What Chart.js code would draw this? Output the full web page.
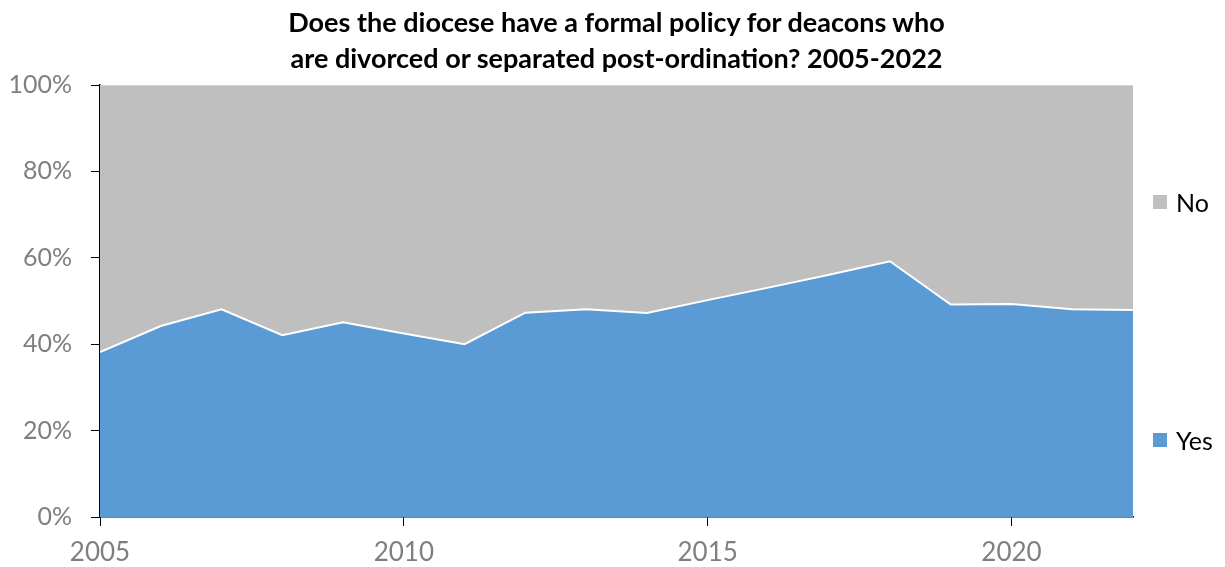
<!DOCTYPE html>
<html>
<head>
<meta charset="utf-8">
<script src="https://cdn.jsdelivr.net/npm/chart.js@4/dist/chart.umd.min.js"></script>
<style>
  body { margin: 0; background: #fff; }
  .wrap { position: relative; width: 1225px; height: 567px; }
  .title {
    position: absolute; left: 0; top: 4px; width: 1233px;
    text-align: center; font: bold 27px Lato, sans-serif; line-height: 36px; color: #000;
  }
  .legend-item {
    position: absolute; left: 1153px; font: 25px Lato, sans-serif; color: #000;
    display: flex; align-items: center;
  }
  .legend-item span.box { width: 14px; height: 14px; margin-right: 9px; display: inline-block; }
</style>
</head>
<body>
<div class="wrap">
  <canvas id="myChart" width="1225" height="567"></canvas>
  <div class="title">Does the diocese have a formal policy for deacons who<br>are divorced or separated post-ordination? 2005-2022</div>
  <div id="legend"></div>
</div>
<script>
const years = [2005, 2006, 2007, 2008, 2009, 2010, 2011, 2012, 2013, 2014, 2015, 2016, 2017, 2018, 2019, 2020, 2021, 2022];
const yesShare = [38.2, 44.2, 48.1, 42.1, 45.1, 42.5, 40.0, 47.3, 48.1, 47.2, 50.2, 53.1, 56.1, 59.2, 49.2, 49.3, 48.1, 47.9];
const noShare = yesShare.map((v) => 100 - v);
const seriesNames = ['Yes', 'No'];
const yTicks = [0, 20, 40, 60, 80, 100];

const blue = '#5B9BD5';
const grey = '#BFBFBF';
const tickGrey = '#7F7F7F';

const ctx = document.getElementById('myChart').getContext('2d');
const chart = new Chart(ctx, {
  type: 'line',
  data: {
    datasets: [{
      label: seriesNames[0],
      data: years.map((yr, i) => ({ x: yr, y: yesShare[i] })),
      backgroundColor: blue,
      borderColor: '#ffffff',
      borderWidth: 2,
      fill: 'origin',
      pointRadius: 0,
      tension: 0,
    }, {
      label: seriesNames[1],
      data: years.map((yr, i) => ({ x: yr, y: noShare[i] })),
      backgroundColor: grey,
      borderColor: '#e6e6e6',
      borderWidth: 1,
      fill: '-1',
      pointRadius: 0,
      tension: 0,
    }],
  },
  options: {
    responsive: false,
    animation: false,
    layout: { padding: { top: 85, right: 92, bottom: 0, left: 0 } },
    plugins: { legend: { display: false }, tooltip: { enabled: false }, title: { display: false } },
    scales: {
      x: {
        type: 'linear',
        min: 2005,
        max: 2022,
        afterFit: (scale) => { scale.height = 50; },
        grid: { drawOnChartArea: false, drawTicks: true, tickLength: 9, color: '#000' },
        border: { display: true, color: '#000', width: 1.5 },
        ticks: {
          stepSize: 5,
          includeBounds: false,
          color: tickGrey,
          font: { family: 'Lato', size: 26 },
          padding: 11,
          callback: (v) => String(v),
        },
      },
      y: {
        stacked: true,
        min: 0,
        max: 100,
        afterFit: (scale) => { scale.width = 100; },
        afterBuildTicks: (scale) => { scale.ticks = yTicks.map((v) => ({ value: v })); },
        grid: { drawOnChartArea: false, drawTicks: true, tickLength: 9, color: '#000' },
        border: { display: true, color: '#000', width: 1.5 },
        ticks: {
          color: tickGrey,
          font: { family: 'Lato', size: 25 },
          padding: 19,
          callback: (v) => v + '%',
        },
      },
    },
  },
});

// legend built from the datasets, No on top as in the original
const legendTops = { No: 187, Yes: 425 };
const legendEl = document.getElementById('legend');
chart.data.datasets.slice().reverse().forEach((ds) => {
  const item = document.createElement('div');
  item.className = 'legend-item';
  item.style.top = legendTops[ds.label] + 'px';
  item.innerHTML = `<span class="box" style="background:${ds.backgroundColor}"></span>${ds.label}`;
  legendEl.appendChild(item);
});
</script>
</body>
</html>
